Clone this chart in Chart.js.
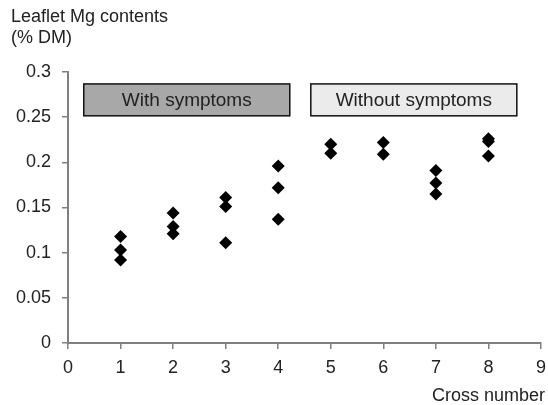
<!DOCTYPE html>
<html>
<head>
<meta charset="utf-8">
<script src="https://cdn.jsdelivr.net/npm/chart.js@4"></script>
<style>
  html, body { margin: 0; padding: 0; background: #fff; }
  #wrap { width: 548px; height: 405px; }
</style>
</head>
<body>
<div id="wrap"><canvas id="mgChart" width="548" height="405"></canvas></div>
<script>
// cross numbers and the three leaflet Mg readings for each cross
const crossNumbers = [1, 2, 3, 4, 5, 6, 7, 8];
const mgRep1 = [0.118, 0.144, 0.161, 0.196, 0.220, 0.222, 0.191, 0.226];
const mgRep2 = [0.103, 0.129, 0.151, 0.172, 0.210, 0.209, 0.177, 0.223];
const mgRep3 = [0.092, 0.121, 0.111, 0.137, null, null, 0.165, 0.207];
const groupLabels = ['With symptoms', 'Without symptoms'];
const xTicks = [0, 1, 2, 3, 4, 5, 6, 7, 8, 9];
const yTicks = [0, 0.05, 0.1, 0.15, 0.2, 0.25, 0.3];

const FONT = '"Liberation Sans", Arial, sans-serif';
const axisGray = '#808080';

const points = [];
[mgRep1, mgRep2, mgRep3].forEach(function (rep) {
    rep.forEach(function (v, i) {
        if (v !== null) points.push({ x: crossNumbers[i], y: v });
    });
});

// group boxes in data units, drawn through the scales
const groupBoxes = [
    { x0: 0.30, x1: 4.22, y0: 0.2515, y1: 0.2868, fill: '#a8a8a8' },
    { x0: 4.62, x1: 8.54, y0: 0.2515, y1: 0.2868, fill: '#ebebeb' }
];

const extras = {
    id: 'extras',
    afterDatasetsDraw(chart) {
        const ctx = chart.ctx;
        const xs = chart.scales.x, ys = chart.scales.y;
        ctx.save();
        groupBoxes.forEach(function (b, i) {
            const l = xs.getPixelForValue(b.x0), r = xs.getPixelForValue(b.x1);
            const t = ys.getPixelForValue(b.y1), btm = ys.getPixelForValue(b.y0);
            ctx.fillStyle = b.fill;
            ctx.fillRect(l, t, r - l, btm - t);
            ctx.lineWidth = 1.5;
            ctx.strokeStyle = '#111';
            ctx.strokeRect(l, t, r - l, btm - t);
            ctx.fillStyle = '#222';
            ctx.font = '19px ' + FONT;
            ctx.textAlign = 'center';
            ctx.textBaseline = 'middle';
            ctx.fillText(groupLabels[i], (l + r) / 2, (t + btm) / 2 + 1);
        });
        ctx.fillStyle = '#222';
        ctx.font = '18px ' + FONT;
        ctx.textAlign = 'left';
        ctx.textBaseline = 'alphabetic';
        ctx.fillText('Leaflet Mg contents', 11, 22);
        ctx.fillText('(% DM)', 11, 43);
        ctx.textAlign = 'right';
        ctx.fillText('Cross number', 545, 401);
        ctx.restore();
    }
};

new Chart(document.getElementById('mgChart').getContext('2d'), {
    type: 'scatter',
    data: {
        datasets: [{
            label: 'Leaflet Mg',
            data: points,
            pointStyle: 'rectRot',
            pointRadius: 6.5,
            pointHoverRadius: 6.5,
            backgroundColor: '#000',
            borderColor: '#000',
            borderWidth: 0
        }]
    },
    options: {
        responsive: false,
        animation: false,
        layout: { padding: { top: 72, right: 7, left: 0, bottom: 0 } },
        plugins: {
            legend: { display: false },
            tooltip: { enabled: false }
        },
        scales: {
            x: {
                type: 'linear',
                min: 0,
                max: 9,
                afterBuildTicks(scale) {
                    scale.ticks = xTicks.map(v => ({ value: v }));
                },
                afterFit(scale) {
                    scale.height = 62;
                    scale.paddingLeft = 0;
                    scale.paddingRight = 0;
                },
                grid: { drawOnChartArea: false, drawTicks: true, tickLength: 6, color: axisGray, lineWidth: 1.5 },
                border: { color: axisGray, width: 2 },
                ticks: { color: '#222', padding: 8, font: { family: FONT, size: 18 } }
            },
            y: {
                min: 0,
                max: 0.3,
                afterBuildTicks(scale) {
                    scale.ticks = yTicks.map(v => ({ value: v }));
                },
                afterFit(scale) { scale.width = 68; },
                grid: { drawOnChartArea: false, drawTicks: true, tickLength: 6, color: axisGray, lineWidth: 1.5 },
                border: { color: axisGray, width: 2 },
                ticks: {
                    color: '#222',
                    padding: 11,
                    font: { family: FONT, size: 18 },
                    callback: v => String(+v.toFixed(2))
                }
            }
        }
    },
    plugins: [extras]
});
</script>
</body>
</html>
